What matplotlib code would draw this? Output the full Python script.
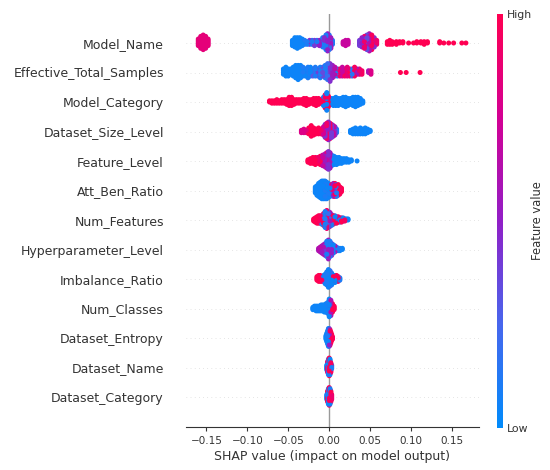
import numpy as np
import matplotlib
matplotlib.use("Agg")
import matplotlib.pyplot as plt
from matplotlib.colors import LinearSegmentedColormap

# feature names, top to bottom
features = ["Model_Name", "Effective_Total_Samples", "Model_Category",
            "Dataset_Size_Level", "Feature_Level", "Att_Ben_Ratio",
            "Num_Features", "Hyperparameter_Level", "Imbalance_Ratio",
            "Num_Classes", "Dataset_Entropy", "Dataset_Name", "Dataset_Category"]

# (shap value, number of samples, feature value 0=low 1=high)
model_name = [(-0.160, 6, 0.85), (-0.157, 10, 0.85), (-0.154, 12, 0.85), (-0.151, 10, 0.85), (-0.148, 6, 0.85),
              (-0.045, 5, 0.05), (-0.042, 8, 0.05), (-0.039, 9, 0.05), (-0.036, 8, 0.05), (-0.033, 6, 0.05), (-0.030, 4, 0.1),
              (-0.027, 3, 0.1), (-0.024, 4, 0.45), (-0.021, 4, 0.1), (-0.018, 5, 0.4), (-0.015, 4, 0.1), (-0.012, 5, 0.5),
              (-0.008, 8, 0.1), (-0.006, 8, 0.45), (-0.004, 12, 0.1), (-0.002, 14, 0.5), (0.000, 12, 0.15), (0.002, 9, 0.55), (0.004, 4, 0.1),
              (0.017, 3, 0.7), (0.020, 5, 0.7), (0.023, 4, 0.7),
              (0.037, 5, 0.4), (0.040, 8, 0.5), (0.043, 10, 0.9), (0.046, 12, 0.35), (0.049, 14, 0.6), (0.052, 12, 0.95), (0.055, 8, 0.45), (0.058, 4, 0.9),
              (0.071, 3, 1), (0.074, 4, 1), (0.077, 3, 1), (0.082, 3, 1), (0.086, 2, 1), (0.090, 2, 1),
              (0.097, 1, 1), (0.103, 1, 1), (0.107, 2, 1), (0.112, 2, 1), (0.116, 3, 1), (0.120, 2, 1),
              (0.135, 2, 1), (0.140, 1, 1), (0.146, 1, 1), (0.152, 1, 1), (0.162, 1, 1), (0.167, 1, 1)]
effective_total_samples = [(-0.056, 4, 0.05), (-0.053, 6, 0.05), (-0.050, 5, 0.05), (-0.047, 4, 0.05), (-0.044, 6, 0.05),
                           (-0.041, 8, 0.05), (-0.038, 9, 0.05), (-0.035, 8, 0.05), (-0.032, 6, 0.1), (-0.029, 5, 0.05),
                           (-0.026, 7, 0.1), (-0.023, 6, 0.05), (-0.020, 5, 0.3), (-0.017, 6, 0.1), (-0.014, 5, 0.4),
                           (-0.011, 7, 0.1), (-0.008, 6, 0.35), (-0.005, 8, 0.1), (-0.002, 10, 0.2), (0.001, 11, 0.45),
                           (0.004, 8, 0.55), (0.007, 6, 0.65), (0.010, 5, 0.1), (0.013, 5, 0.9), (0.016, 6, 0.7),
                           (0.019, 5, 0.95), (0.022, 6, 0.85), (0.025, 5, 1.0), (0.028, 5, 0.15), (0.031, 6, 0.95),
                           (0.034, 4, 0.6), (0.037, 4, 0.9), (0.040, 3, 0.95), (0.048, 2, 0.6), (0.051, 3, 0.8),
                           (0.087, 1, 1), (0.094, 1, 1), (0.111, 1, 1)]
model_category = [(-0.073, 2, 1), (-0.070, 3, 1), (-0.067, 3, 1), (-0.064, 4, 1), (-0.061, 3, 1), (-0.058, 4, 1),
                  (-0.055, 4, 1), (-0.052, 5, 1), (-0.049, 8, 1), (-0.046, 8, 1), (-0.043, 5, 1), (-0.040, 4, 1),
                  (-0.037, 4, 1), (-0.034, 4, 1), (-0.031, 6, 1), (-0.028, 7, 1), (-0.025, 5, 1), (-0.022, 4, 1),
                  (-0.019, 6, 1), (-0.016, 7, 1), (-0.013, 6, 1), (-0.010, 4, 1),
                  (-0.007, 8, 0.05), (-0.005, 12, 0.95), (-0.003, 16, 0.05), (-0.001, 10, 1.0),
                  (0.002, 6, 0.05), (0.005, 7, 0.05), (0.008, 8, 0.05), (0.011, 7, 0.05), (0.014, 6, 0.05),
                  (0.017, 8, 0.05), (0.020, 9, 0.05), (0.023, 7, 0.05), (0.026, 6, 0.05), (0.029, 8, 0.05),
                  (0.032, 9, 0.05), (0.035, 8, 0.05), (0.038, 6, 0.05), (0.041, 3, 0.05)]
dataset_size_level = [(-0.034, 3, 0.8), (-0.031, 4, 0.8), (-0.028, 3, 0.85),
                      (-0.025, 6, 1), (-0.022, 10, 1), (-0.019, 7, 1), (-0.016, 5, 1), (-0.013, 6, 1), (-0.010, 5, 0.9),
                      (-0.007, 8, 0.75), (-0.005, 12, 0.45), (-0.003, 14, 0.9), (-0.001, 16, 0.5), (0.001, 14, 0.95),
                      (0.003, 12, 0.4), (0.005, 10, 0.7), (0.007, 8, 0.45), (0.009, 4, 0.1),
                      (0.026, 3, 0.05), (0.029, 5, 0.05), (0.032, 6, 0.05), (0.035, 5, 0.05), (0.038, 6, 0.05),
                      (0.041, 5, 0.05), (0.044, 6, 0.05), (0.047, 4, 0.05), (0.050, 2, 0.05)]
feature_level = [(-0.026, 3, 1), (-0.023, 5, 1), (-0.020, 6, 1), (-0.017, 7, 1), (-0.014, 6, 0.9), (-0.011, 8, 1),
                 (-0.008, 10, 0.7), (-0.005, 12, 0.55), (-0.003, 14, 0.8), (-0.001, 16, 0.45), (0.001, 14, 0.6),
                 (0.003, 10, 0.1), (0.006, 8, 0.05), (0.009, 7, 0.05), (0.012, 6, 0.05), (0.015, 5, 0.05),
                 (0.018, 4, 0.05), (0.021, 4, 0.05), (0.024, 3, 0.05), (0.027, 2, 0.05), (0.034, 1, 0.05)]
att_ben_ratio = [(-0.017, 6, 0.05), (-0.015, 9, 0.05), (-0.013, 12, 0.05), (-0.011, 14, 0.05), (-0.009, 16, 0.05),
                 (-0.007, 16, 0.05), (-0.005, 16, 0.1), (-0.003, 15, 0.05), (-0.001, 13, 0.1), (0.001, 11, 0.05),
                 (0.003, 10, 0.9), (0.005, 12, 0.5), (0.007, 12, 1.0), (0.009, 11, 0.1), (0.011, 10, 1.0),
                 (0.013, 7, 0.95), (0.015, 4, 1.0)]
num_features = [(-0.019, 3, 1), (-0.017, 5, 1), (-0.015, 7, 1), (-0.013, 8, 1), (-0.011, 8, 0.95), (-0.009, 9, 0.1),
                (-0.007, 12, 1), (-0.005, 16, 0.1), (-0.003, 18, 0.9), (-0.001, 16, 0.2), (0.001, 14, 0.6),
                (0.003, 11, 0.1), (0.005, 9, 1), (0.007, 8, 0.05), (0.009, 7, 1), (0.011, 6, 0.9), (0.013, 5, 0.1),
                (0.015, 5, 1), (0.017, 4, 0.05), (0.019, 3, 0.95), (0.021, 2, 0.05), (0.023, 2, 0.05)]
hyperparameter_level = [(-0.013, 3, 0.6), (-0.011, 5, 0.65), (-0.009, 7, 0.55), (-0.007, 9, 0.6), (-0.005, 11, 0.4),
                        (-0.003, 14, 0.1), (-0.001, 17, 0.55), (0.001, 14, 0.1), (0.003, 11, 0.5), (0.005, 8, 0.05),
                        (0.007, 6, 0.6), (0.009, 4, 0.05), (0.011, 3, 0.1), (0.013, 3, 0.05), (0.016, 2, 0.05)]
imbalance_ratio = [(-0.015, 4, 1), (-0.013, 6, 1), (-0.011, 6, 1), (-0.009, 5, 0.9), (-0.007, 6, 0.1),
                   (-0.005, 9, 0.05), (-0.003, 12, 0.1), (-0.001, 16, 0.05), (0.001, 14, 0.2), (0.003, 11, 0.05),
                   (0.005, 7, 1), (0.007, 7, 0.05), (0.009, 6, 1), (0.011, 5, 0.95), (0.013, 3, 0.1)]
num_classes = [(-0.020, 3, 0.05), (-0.018, 4, 0.05), (-0.016, 5, 0.05), (-0.014, 5, 0.05), (-0.012, 5, 0.05),
               (-0.010, 6, 0.05), (-0.008, 6, 0.05), (-0.006, 7, 0.05), (-0.004, 8, 0.05), (-0.002, 10, 0.1),
               (0.000, 16, 0.05), (0.002, 14, 0.6), (0.004, 8, 1), (0.006, 4, 1)]
dataset_entropy = [(-0.004, 4, 0.05), (-0.003, 8, 0.05), (-0.002, 12, 0.1), (-0.001, 16, 0.05), (0.000, 16, 0.5),
                   (0.001, 14, 0.95), (0.002, 10, 1), (0.003, 6, 1), (0.004, 3, 0.95)]
dataset_name = [(-0.003, 5, 0.05), (-0.002, 10, 0.9), (-0.001, 14, 0.1), (0.000, 16, 1.0), (0.001, 14, 0.05),
                (0.002, 9, 0.95), (0.003, 4, 0.1)]
dataset_category = [(-0.003, 5, 0.1), (-0.002, 10, 1.0), (-0.001, 14, 0.05), (0.000, 16, 0.95), (0.001, 14, 0.1),
                    (0.002, 10, 1.0), (0.003, 5, 0.9)]

rows = [model_name, effective_total_samples, model_category, dataset_size_level, feature_level,
        att_ben_ratio, num_features, hyperparameter_level, imbalance_ratio, num_classes,
        dataset_entropy, dataset_name, dataset_category]

# shap-like red/blue colormap
cmap = LinearSegmentedColormap.from_list("red_blue", [
    (0.0, (0.0, 0.545, 0.984)),
    (0.25, (0.28, 0.40, 0.93)),
    (0.5, (0.57, 0.12, 0.78)),
    (0.75, (0.83, 0.0, 0.58)),
    (1.0, (1.0, 0.0, 0.32))])

axis_color = "#333333"
fig = plt.figure(figsize=(5.5, 4.7), dpi=100)
ax = fig.add_axes([186 / 550, 1 - 426.5 / 470, 293 / 550, 413 / 470])
cax = fig.add_axes([497 / 550, 1 - 428 / 470, 6 / 550, 414 / 470])

n = len(features)
row_height = 0.4
for i, (name, clusters) in enumerate(zip(features, rows)):
    pos = n - 1 - i
    ax.axhline(y=pos, color="#cccccc", lw=0.5, dashes=(1, 5), zorder=-1)
    xs, ys, cs = [], [], []
    for val, cnt, fv in clusters:
        for layer in range(cnt):
            off = np.ceil(layer / 2) * ((layer % 2) * 2 - 1)
            xs.append(val)
            ys.append(off)
            cs.append(fv)
    xs = np.array(xs)
    ys = np.array(ys, dtype=float)
    cs = np.array(cs)
    ys *= 0.9 * (row_height / np.max(np.abs(ys) + 1))
    m = len(xs)
    k = 37
    while np.gcd(k, m) != 1:
        k += 2
    order = (np.arange(m) * k) % m
    ax.scatter(xs[order], pos + ys[order], c=cs[order], cmap=cmap, vmin=0, vmax=1,
               s=13, linewidths=0, zorder=3, rasterized=True)

ax.axvline(x=0, color="#999999", lw=1, zorder=-1)
ax.set_xlim(-0.175, 0.183)
ax.set_ylim(-1, n)
ax.set_yticks(range(n))
ax.set_yticklabels(features[::-1], fontsize=9, color=axis_color)
ax.tick_params(axis="y", length=0, pad=16)
ax.set_xticks([-0.15, -0.10, -0.05, 0.00, 0.05, 0.10, 0.15])
ax.set_xticklabels(["\u22120.15", "\u22120.10", "\u22120.05", "0.00", "0.05", "0.10", "0.15"])
ax.tick_params(axis="x", labelsize=7.5, color=axis_color, labelcolor=axis_color, length=3, width=0.8)
ax.set_xlabel("SHAP value (impact on model output)", fontsize=9, color=axis_color, labelpad=3)
for sp in ["top", "right", "left"]:
    ax.spines[sp].set_visible(False)
ax.spines["bottom"].set_color(axis_color)

sm = plt.cm.ScalarMappable(cmap=cmap, norm=plt.Normalize(0, 1))
cb = fig.colorbar(sm, cax=cax, ticks=[0, 1])
cb.set_ticklabels(["Low", "High"])
cb.ax.tick_params(labelsize=7.8, length=0, pad=3, labelcolor=axis_color)
cb.set_label("Feature value", size=8.3, labelpad=-1, color=axis_color)
cb.outline.set_visible(False)

plt.savefig("out.png", dpi=100)
